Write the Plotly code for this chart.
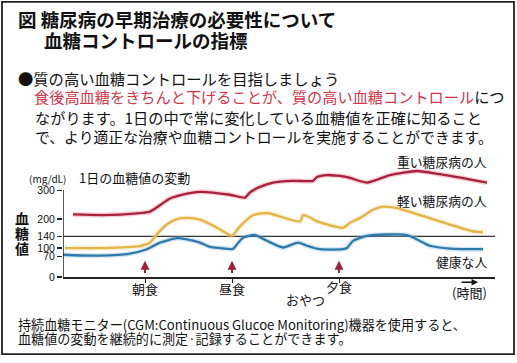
import plotly.graph_objects as go

W, H = 517, 363

# ---- data (time index across the day, blood glucose mg/dL) ----
severe_t = [10, 40, 74, 87, 107, 124, 137, 167, 182, 187, 197, 210, 230, 250, 254, 264, 284, 304, 327, 354, 377, 424]
severe_v = [216, 214, 220, 226, 271, 288, 294, 284, 274, 292, 311, 326, 332, 332, 345, 352, 345, 326, 352, 366, 355, 326]

mild_t = [2, 40, 77, 87, 94, 104, 114, 124, 137, 147, 157, 169, 177, 190, 204, 237, 240, 245, 254, 280, 287, 297, 310, 320, 334, 377, 410, 420]
mild_v = [100, 100, 107, 119, 148, 182, 200, 204, 198, 183, 164, 143, 175, 213, 221, 192, 213, 209, 192, 170, 187, 204, 232, 243, 238, 192, 158, 155]

healthy_t = [0, 30, 64, 84, 97, 114, 124, 137, 147, 157, 170, 174, 180, 192, 204, 220, 235, 244, 257, 280, 284, 290, 304, 344, 367, 387, 420]
healthy_v = [77, 74, 79, 96, 119, 134, 130, 119, 104, 100, 97, 113, 136, 145, 125, 102, 119, 108, 96, 96, 100, 125, 142, 145, 108, 98, 96]

y_ticks = [0, 70, 100, 140, 200, 300]
target_value = 140
meal_names = ["朝食", "昼食", "おやつ", "夕食"]
meal_t = [82, 169, 242, 276]
series_names = ["重い糖尿病の人", "軽い糖尿病の人", "健康な人"]

RED, YEL, BLU = "#a9213d", "#e5b446", "#2f7aab"
ARROW = "#9b2335"
JP = "Noto Sans CJK JP"


def px(x):
    return x / W


def py(y):
    return 1 - y / H


fig = go.Figure()
for t, v, c, halo in [
    (severe_t, severe_v, RED, "rgba(230,120,140,0.35)"),
    (mild_t, mild_v, YEL, "rgba(240,210,140,0.35)"),
    (healthy_t, healthy_v, BLU, "rgba(140,190,220,0.35)"),
]:
    fig.add_trace(go.Scatter(x=t, y=v, mode="lines", hoverinfo="skip",
                             line=dict(color=halo, width=5, shape="spline", smoothing=0.6)))
    fig.add_trace(go.Scatter(x=t, y=v, mode="lines", hoverinfo="skip",
                             line=dict(color=c, width=2.3, shape="spline", smoothing=0.6)))

fig.update_layout(
    width=W, height=H, margin=dict(l=0, r=0, t=0, b=0),
    paper_bgcolor="white", plot_bgcolor="white", showlegend=False,
    font=dict(family=JP, color="#111"),
    xaxis=dict(domain=[63 / W, 495 / W], range=[0, 432], showgrid=False, zeroline=False,
               showline=True, linecolor="#222", linewidth=1.5,
               tickvals=[meal_t[0], meal_t[1], meal_t[3]], ticks="outside", ticklen=4,
               tickcolor="#222", tickwidth=1, showticklabels=False),
    yaxis=dict(domain=[1 - 281.7 / H, 1 - (281.7 - 385 * 88.4 / 300) / H], range=[0, 385],
               showgrid=False, zeroline=False, showline=False,
               tickvals=y_ticks, ticktext=[str(v) for v in y_ticks], ticks="outside", ticklen=5,
               tickcolor="#222", tickwidth=1.2,
               tickfont=dict(family="Liberation Sans", size=10.5, color="#111")),
)

# y-axis line 0..300 and 140 target line
fig.add_shape(type="line", xref="x", yref="y", x0=0, x1=0, y0=0, y1=300,
              line=dict(color="#222", width=1.5))
fig.add_shape(type="line", xref="x", yref="y", x0=0, x1=432, y0=target_value, y1=target_value,
              line=dict(color="#333", width=1.3), layer="below")
# outer border
fig.add_shape(type="rect", xref="paper", yref="paper", x0=px(2), x1=px(514), y0=py(360), y1=py(2),
              line=dict(color="#222", width=1.8))


def txt(s, x, y, size, color="#111", anchor="left", bold=False, family=JP):
    fig.add_annotation(text=s, xref="paper", yref="paper", x=px(x), y=py(y),
                       xanchor=anchor, yanchor="middle", showarrow=False,
                       font=dict(size=size, color=color, family=family,
                                 weight="bold" if bold else "normal"))


# title and explanatory text
txt("図 糖尿病の早期治療の必要性について", 16, 19, 18.5, bold=True)
txt("血糖コントロールの指標", 42, 41, 18.5, bold=True)
txt("●質の高い血糖コントロールを目指しましょう", 16, 79, 15.3)
txt("<span style='color:#d5344a'>食後高血糖をきちんと下げることが、質の高い血糖コントロール</span>につ",
    32, 98, 15.2)
txt("ながります。1日の中で常に変化している血糖値を正確に知ること", 33, 119, 15.2)
txt("で、より適正な治療や血糖コントロールを実施することができます。", 33, 139, 14.85)
txt("持続血糖モニター(CGM:Continuous Glucoe Monitoring)機器を使用すると、", 16, 329.5, 13.1)
txt("血糖値の変動を継続的に測定·記録することができます。", 16, 344.5, 13.1)

# chart labels
txt("(mg/dL)", 27, 181.5, 10)
txt("1日の血糖値の変動", 77, 180, 13)
for ch, yy in zip("血糖値", [222, 237, 252]):
    txt(ch, 22, yy, 14, anchor="center", bold=True)
txt(series_names[0], 489, 164, 12.8, anchor="right")
txt(series_names[1], 489, 204, 12.8, anchor="right")
txt(series_names[2], 489, 266, 12.8, anchor="right")

# meal arrows and labels
label_y = [293, 293, 305, 291]
for name, t, ly in zip(meal_names, meal_t, label_y):
    if name == "おやつ":
        head, tail = -4, -35
    else:
        head, tail = 56, 9
    fig.add_annotation(x=t, y=head, xref="x", yref="y", ax=t, ay=tail, axref="x", ayref="y",
                       text="", showarrow=True, arrowhead=2, arrowsize=0.9, arrowwidth=2,
                       arrowcolor=ARROW)
    fig.add_annotation(text=name, x=t, xref="x", y=py(ly), yref="paper", showarrow=False,
                       xanchor="center", yanchor="middle", font=dict(size=13, family=JP, color="#111"))

# time label
fig.add_annotation(x=px(478), y=py(287), xref="paper", yref="paper", ax=-18, ay=0,
                   text="", showarrow=True, arrowhead=2, arrowsize=0.8, arrowwidth=1.6,
                   arrowcolor="#111")
txt("(時間)", 469, 297, 13, anchor="center")

fig.write_html("out.html", config={"displayModeBar": False, "staticPlot": True},
               post_script="document.body.style.margin='0px';document.body.style.overflow='hidden';")
